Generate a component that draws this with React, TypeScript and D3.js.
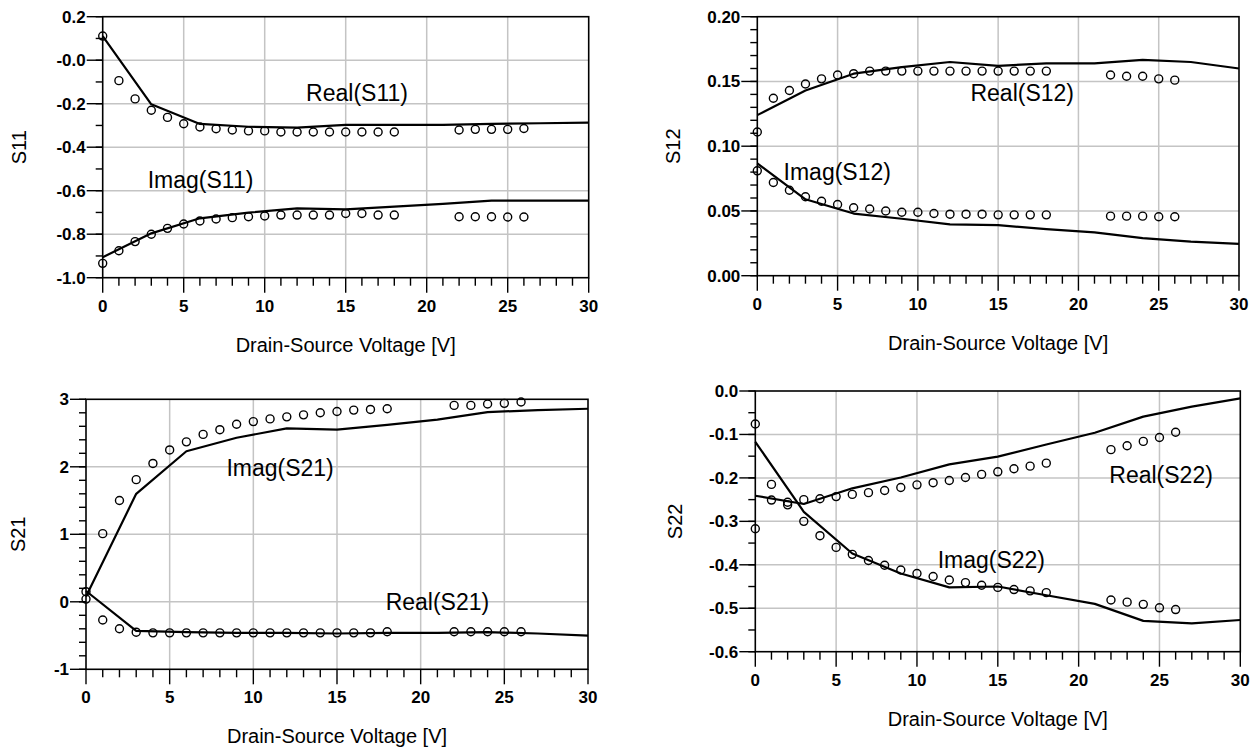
import React from "react";
import * as d3 from "d3";

const circleX = [0, 1, 2, 3, 4, 5, 6, 7, 8, 9, 10, 11, 12, 13, 14, 15, 16, 17, 18, 22, 23, 24, 25, 26];
const lineX = [0, 3, 6, 9, 12, 15, 18, 21, 24, 27, 30];
const xTicks = [0, 5, 10, 15, 20, 25, 30];

const s11RealMeas = [0.111, -0.094, -0.178, -0.23, -0.263, -0.292, -0.307, -0.315, -0.321, -0.325, -0.325, -0.33, -0.33, -0.33, -0.33, -0.33, -0.33, -0.33, -0.33, -0.321, -0.318, -0.318, -0.318, -0.314];
const s11RealSim = [0.111, -0.203, -0.293, -0.306, -0.31, -0.297, -0.297, -0.297, -0.293, -0.29, -0.287];
const s11ImagMeas = [-0.934, -0.876, -0.834, -0.8, -0.773, -0.753, -0.739, -0.73, -0.724, -0.72, -0.716, -0.712, -0.712, -0.712, -0.712, -0.705, -0.705, -0.712, -0.712, -0.72, -0.72, -0.72, -0.721, -0.721];
const s11ImagSim = [-0.906, -0.796, -0.727, -0.701, -0.681, -0.686, -0.673, -0.661, -0.646, -0.646, -0.646];

const s12RealMeas = [0.111, 0.137, 0.143, 0.148, 0.152, 0.155, 0.156, 0.158, 0.158, 0.158, 0.158, 0.158, 0.158, 0.158, 0.158, 0.158, 0.158, 0.158, 0.158, 0.155, 0.154, 0.154, 0.152, 0.151];
const s12RealSim = [0.124, 0.143, 0.156, 0.161, 0.165, 0.162, 0.164, 0.164, 0.1666, 0.165, 0.16];
const s12ImagMeas = [0.081, 0.072, 0.066, 0.061, 0.0575, 0.055, 0.0525, 0.0515, 0.05, 0.049, 0.049, 0.048, 0.0475, 0.0475, 0.0475, 0.047, 0.047, 0.047, 0.047, 0.046, 0.046, 0.046, 0.0455, 0.0455];
const s12ImagSim = [0.0868, 0.059, 0.048, 0.044, 0.0397, 0.039, 0.036, 0.0335, 0.029, 0.0263, 0.0245];

const s21RealMeas = [0.15, -0.27, -0.4, -0.45, -0.46, -0.46, -0.46, -0.46, -0.46, -0.46, -0.46, -0.46, -0.46, -0.46, -0.46, -0.46, -0.46, -0.46, -0.444, -0.444, -0.444, -0.444, -0.444, -0.444];
const s21RealSim = [0.16, -0.43, -0.45, -0.46, -0.46, -0.47, -0.46, -0.46, -0.45, -0.47, -0.5];
const s21ImagMeas = [0.04, 1.01, 1.5, 1.81, 2.05, 2.25, 2.37, 2.48, 2.55, 2.63, 2.67, 2.71, 2.74, 2.77, 2.8, 2.82, 2.84, 2.85, 2.86, 2.91, 2.91, 2.93, 2.94, 2.96];
const s21ImagSim = [0.08, 1.6, 2.23, 2.43, 2.57, 2.55, 2.62, 2.7, 2.81, 2.84, 2.86];

const s22RealMeas = [-0.317, -0.251, -0.256, -0.25, -0.248, -0.243, -0.238, -0.234, -0.229, -0.222, -0.216, -0.211, -0.206, -0.199, -0.192, -0.186, -0.179, -0.173, -0.166, -0.135, -0.126, -0.116, -0.107, -0.095];
const s22RealSim = [-0.241, -0.26, -0.224, -0.199, -0.169, -0.151, -0.123, -0.096, -0.059, -0.036, -0.017];
const s22ImagMeas = [-0.076, -0.215, -0.262, -0.3, -0.333, -0.36, -0.376, -0.39, -0.401, -0.412, -0.42, -0.427, -0.435, -0.441, -0.447, -0.452, -0.457, -0.46, -0.464, -0.481, -0.486, -0.491, -0.499, -0.503];
const s22ImagSim = [-0.117, -0.278, -0.374, -0.42, -0.452, -0.45, -0.47, -0.49, -0.529, -0.535, -0.527];

const s11YTicks = ["0.2", "-0.0", "-0.2", "-0.4", "-0.6", "-0.8", "-1.0"];
const s12YTicks = ["0.20", "0.15", "0.10", "0.05", "0.00"];
const s21YTicks = ["3", "2", "1", "0", "-1"];
const s22YTicks = ["0.0", "-0.1", "-0.2", "-0.3", "-0.4", "-0.5", "-0.6"];

const yTitles = ["S11", "S12", "S21", "S22"];
const xTitle = "Drain-Source Voltage [V]";

// annotation labels: [text, x (V), y (value)]
const s11Labels: [string, number, number][] = [["Real(S11)", 15.7, -0.151], ["Imag(S11)", 6.04, -0.552]];
const s12Labels: [string, number, number][] = [["Real(S12)", 16.5, 0.1413], ["Imag(S12)", 4.98, 0.0803]];
const s21Labels: [string, number, number][] = [["Imag(S21)", 11.6, 1.982], ["Real(S21)", 21.0, -0.003]];
const s22Labels: [string, number, number][] = [["Real(S22)", 25.1, -0.193], ["Imag(S22)", 14.6, -0.389]];

type PanelCfg = {
  left: number; right: number; top: number; bottom: number;
  yDomain: [number, number]; yMajor: number; yMinor: number;
  yTickLabels: string[]; title: string; titleOffset: number;
  series: { meas: number[]; sim: number[] }[];
  labels: [string, number, number][];
};

const FONT = "'Liberation Sans', Arial, Helvetica, sans-serif";

function Panel({ cfg }: { cfg: PanelCfg }) {
  const x = d3.scaleLinear().domain([0, 30]).range([cfg.left, cfg.right]);
  const y = d3.scaleLinear().domain(cfg.yDomain).range([cfg.bottom, cfg.top]);
  const [y0, y1] = cfg.yDomain;
  const nMajor = Math.round((y1 - y0) / cfg.yMajor);
  const majorVals = d3.range(nMajor + 1).map((i) => y1 - i * cfg.yMajor);
  const nMinor = Math.round((y1 - y0) / cfg.yMinor);
  const minorVals = d3.range(nMinor + 1).map((i) => y0 + i * cfg.yMinor);
  const xMinor = d3.range(0, 31, 1);
  const line = d3.line<[number, number]>().x((d) => x(d[0])).y((d) => y(d[1]));
  const cy = (cfg.top + cfg.bottom) / 2;
  const cx = (cfg.left + cfg.right) / 2;
  const grid = "#c4c4c4";
  return (
    <g>
      {xTicks.slice(1, -1).map((v) => (
        <line key={"gx" + v} x1={x(v)} x2={x(v)} y1={cfg.top} y2={cfg.bottom} stroke={grid} strokeWidth={1.5} />
      ))}
      {majorVals.slice(1, -1).map((v, i) => (
        <line key={"gy" + i} x1={cfg.left} x2={cfg.right} y1={y(v)} y2={y(v)} stroke={grid} strokeWidth={1.5} />
      ))}
      <rect x={cfg.left} y={cfg.top} width={cfg.right - cfg.left} height={cfg.bottom - cfg.top} fill="none" stroke="#000" strokeWidth={1.6} />
      {minorVals.map((v, i) => (
        <line key={"my" + i} x1={cfg.left - 7} x2={cfg.left} y1={y(v)} y2={y(v)} stroke="#000" strokeWidth={1.4} />
      ))}
      {majorVals.map((v, i) => (
        <g key={"My" + i}>
          <line x1={cfg.left - 16} x2={cfg.left} y1={y(v)} y2={y(v)} stroke="#000" strokeWidth={1.4} />
          <text x={cfg.left - 17} y={y(v)} dy="0.35em" textAnchor="end" fontFamily={FONT} fontSize={17} fontWeight="bold">
            {cfg.yTickLabels[i]}
          </text>
        </g>
      ))}
      {xMinor.map((v) => (
        <line key={"mx" + v} x1={x(v)} x2={x(v)} y1={cfg.bottom} y2={cfg.bottom + (v % 5 === 0 ? 15 : 8)} stroke="#000" strokeWidth={1.4} />
      ))}
      {xTicks.map((v) => (
        <text key={"xl" + v} x={x(v)} y={cfg.bottom + 28} dy="0.35em" textAnchor="middle" fontFamily={FONT} fontSize={17} fontWeight="bold">
          {v}
        </text>
      ))}
      <text x={cx} y={cfg.bottom + 67} dy="0.35em" textAnchor="middle" fontFamily={FONT} fontSize={20}>
        {xTitle}
      </text>
      <text transform={`translate(${cfg.left - cfg.titleOffset},${cy}) rotate(-90)`} dy="0.35em" textAnchor="middle" fontFamily={FONT} fontSize={20}>
        {cfg.title}
      </text>
      {cfg.series.map((s, si) => (
        <g key={"s" + si}>
          <path d={line(lineX.map((v, i) => [v, s.sim[i]] as [number, number])) || ""} fill="none" stroke="#000" strokeWidth={2.2} strokeLinejoin="round" />
          {circleX.map((v, i) => (
            <circle key={i} cx={x(v)} cy={y(s.meas[i])} r={4} fill="none" stroke="#000" strokeWidth={1.4} />
          ))}
        </g>
      ))}
      {cfg.labels.map(([t, lx, ly]) => (
        <text key={t} x={x(lx)} y={y(ly)} dy="0.35em" textAnchor="middle" fontFamily={FONT} fontSize={23}>
          {t}
        </text>
      ))}
    </g>
  );
}

const panels: PanelCfg[] = [
  {
    left: 102.7, right: 588.7, top: 16.7, bottom: 277.7, yDomain: [-1, 0.2], yMajor: 0.2, yMinor: 0.1,
    yTickLabels: s11YTicks, title: yTitles[0], titleOffset: 84,
    series: [{ meas: s11RealMeas, sim: s11RealSim }, { meas: s11ImagMeas, sim: s11ImagSim }], labels: s11Labels,
  },
  {
    left: 757.3, right: 1239, top: 16.7, bottom: 275.7, yDomain: [0, 0.2], yMajor: 0.05, yMinor: 0.01,
    yTickLabels: s12YTicks, title: yTitles[1], titleOffset: 84,
    series: [{ meas: s12RealMeas, sim: s12RealSim }, { meas: s12ImagMeas, sim: s12ImagSim }], labels: s12Labels,
  },
  {
    left: 86, right: 588, top: 399.3, bottom: 669.3, yDomain: [-1, 3], yMajor: 1, yMinor: 0.2,
    yTickLabels: s21YTicks, title: yTitles[2], titleOffset: 68.5,
    series: [{ meas: s21RealMeas, sim: s21RealSim }, { meas: s21ImagMeas, sim: s21ImagSim }], labels: s21Labels,
  },
  {
    left: 755.3, right: 1240.3, top: 391, bottom: 651.7, yDomain: [-0.6, 0], yMajor: 0.1, yMinor: 0.05,
    yTickLabels: s22YTicks, title: yTitles[3], titleOffset: 80,
    series: [{ meas: s22RealMeas, sim: s22RealSim }, { meas: s22ImagMeas, sim: s22ImagSim }], labels: s22Labels,
  },
];

export default function App() {
  return (
    <svg width={1257} height={751} style={{ position: "absolute", left: 0, top: 0, background: "#fff" }}>
      <rect width={1257} height={751} fill="#fff" />
      {panels.map((p, i) => (
        <Panel key={i} cfg={p} />
      ))}
    </svg>
  );
}
